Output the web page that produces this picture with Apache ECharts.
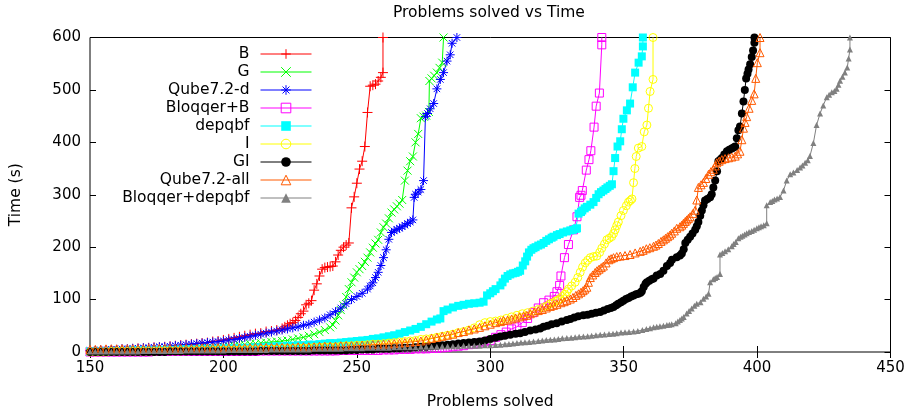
<!DOCTYPE html>
<html><head><meta charset="utf-8">
<script src="https://cdn.jsdelivr.net/npm/echarts@6/dist/echarts.min.js"></script>
<style>html,body{margin:0;padding:0;background:#fff}#c{width:915px;height:415px}</style>
</head><body><div id="c"></div>
<script>
const seriesNames = ['B','G','Qube7.2-d','Bloqqer+B','depqbf','I','GI','Qube7.2-all','Bloqqer+depqbf'];
const xRange = [150, 450, 50];
const yRange = [0, 600, 100];

const dataB = [[150,2],[152,2],[154,3],[156,3],[158,4],[160,4],[162,5],[164,5],[166,6],[168,7],[170,7],[172,8],[174,9],[176,9],[178,10],[180,11],[182,12],[184,13],[186,14],[188,15],[190,16],[192,17],[194,18],[196,20],[198,21],[200,23],[202,25],[204,27],[206,29],[208,31],[210,33],[212,35],[214,36],[216,39],[218,40],[220,42],[222,45],[223,48],[224,51],[225,54],[226,56],[227,60],[228,66],[229,73],[230,78],[231,90],[232,93],[233,98],[234,118],[235,130],[236,145],[237,158],[238,161],[239,162],[240,163],[241,164],[242,172],[243,185],[244,194],[245,200],[246,204],[247,208],[248,275],[249,296],[250,322],[251,349],[252,364],[253,392],[254,457],[255,507],[256,509],[257,511],[258,517],[259,524],[259.8,533],[259.8,600]];
const dataG = [[150,1],[152,1],[154,1],[156,1],[158,2],[160,2],[162,2],[164,2],[166,3],[168,3],[170,3],[172,3],[174,4],[176,4],[178,4],[180,5],[182,5],[184,6],[186,6],[188,6],[190,7],[192,7],[194,8],[196,8],[198,9],[200,10],[202,11],[204,12],[206,13],[208,14],[210,15],[212,16],[214,17],[216,18],[218,19],[220,20],[222,21],[224,22],[226,24],[228,26],[230,28],[232,31],[234,34],[236,38],[238,42],[240,47],[241,52],[242,60],[243,70],[244,80],[245,89],[246,105],[247,120],[248,133],[249,142],[250,152],[251,158],[252,164],[253,172],[254,180],[255,190],[256,199],[257,207],[258,214],[259,228],[260,238],[261,245],[262,255],[263,266],[264,272],[265,278],[266,283],[267,290],[268,327],[269,346],[270,364],[271,373],[272,400],[273,416],[274,446],[275,449],[276,451],[277,458],[277.2,517],[278,522],[279,527],[280,533],[281,542],[282,552],[282.5,600]];
const dataQubeD = [[150,3],[152,3],[154,4],[156,4],[158,5],[160,5],[162,6],[164,6],[166,7],[168,7],[170,8],[172,8],[174,9],[176,10],[178,10],[180,11],[182,12],[184,13],[186,14],[188,15],[190,16],[192,17],[194,18],[196,19],[198,20],[200,21],[202,23],[204,24],[206,26],[208,28],[210,30],[212,32],[214,34],[216,36],[218,38],[220,40],[222,42],[224,44],[226,46],[228,48],[230,51],[232,53],[234,57],[236,61],[238,65],[240,71],[242,77],[244,84],[246,92],[248,100],[250,106],[252,112],[254,120],[255,126],[256,132],[257,142],[258,152],[259,165],[260,180],[261,195],[262,215],[263,228],[264,231],[265,234],[266,236],[267,239],[268,242],[269,245],[270,248],[271,252],[271.5,295],[272,301],[273,305],[274,310],[275,327],[275.7,449],[276.5,455],[277.5,464],[278.8,474],[280,502],[281.3,520],[282.5,533],[283.8,555],[285,567],[285.7,589],[287.5,600]];
const dataBloqqerB = [[150,0],[152,0],[154,0],[156,0],[158,0],[160,0],[162,0],[164,0],[166,0],[168,0],[170,0],[172,0],[174,1],[176,1],[178,1],[180,1],[182,1],[184,1],[186,1],[188,1],[190,1],[192,1],[194,1],[196,1],[198,1],[200,1],[202,1],[204,1],[206,1],[208,1],[210,1],[212,1],[214,2],[216,2],[218,2],[220,2],[222,2],[224,2],[226,2],[228,2],[230,2],[232,2],[234,2],[236,2],[238,2],[240,2],[242,2],[244,3],[246,3],[248,3],[250,3],[252,3],[254,3],[256,3],[258,3],[260,4],[262,4],[264,4],[266,5],[268,5],[270,5],[272,6],[274,6],[276,6],[278,7],[280,7],[282,8],[284,9],[286,10],[288,11],[290,12],[292,14],[294,15],[296,17],[298,19],[300,22],[302,28],[304,33],[306,38],[308,44],[310,48],[312,56],[314,64],[316,75],[318,84],[320,94],[322,99],[324,106],[325,115],[326,127],[326.5,145],[327.8,180],[329.3,205],[331.2,233],[332.5,258],[333.5,295],[334,299],[334.5,308],[336,347],[337,367],[337.7,384],[338.9,429],[339.7,469],[340.9,494],[341.8,586],[341.8,600]];
const dataDepqbf = [[150,1],[152,1],[154,1],[156,1],[158,2],[160,2],[162,2],[164,2],[166,3],[168,3],[170,3],[172,3],[174,3],[176,4],[178,4],[180,4],[182,4],[184,5],[186,5],[188,5],[190,5],[192,6],[194,6],[196,6],[198,6],[200,7],[202,7],[204,7],[206,7],[208,8],[210,8],[212,9],[214,9],[216,10],[218,10],[220,11],[222,11],[224,12],[226,12],[228,13],[230,13],[232,14],[234,14],[236,15],[238,16],[240,17],[242,17],[244,18],[246,19],[248,20],[250,21],[252,22],[254,23],[256,25],[258,26],[260,28],[262,30],[264,32],[266,35],[268,38],[270,41],[272,44],[274,48],[276,53],[278,58],[280,62],[281.3,64],[282.5,78],[284,81],[286,85],[288,88],[290,90],[292,92],[294,93],[296,94],[297.5,96],[298.8,108],[300,112],[301,116],[302,120],[303.8,127],[304.6,133],[305.5,140],[306.5,145],[307.5,148],[308.5,150],[309.5,151],[310.4,153],[311.2,155],[312.2,165],[313.1,173],[313.8,182],[314.5,190],[315.4,195],[316.2,198],[317,200],[318,203],[319,205],[320,208],[321,212],[322,215],[323,218],[323.7,220],[325,223],[326,225],[327.3,228],[328.7,230],[330,232],[331,233],[332,235],[332.5,236],[333.1,264],[334,267],[334.5,270],[335.4,274],[336.2,277],[337.5,281],[338.7,286],[339.7,294],[340.6,301],[341.5,305],[342.4,308],[343.2,311],[343.9,314],[344.8,317],[345.6,320],[346.2,345],[346.8,370],[347.7,392],[348.7,402],[349.3,425],[349.9,445],[351.2,461],[352.4,474],[353.4,505],[354.3,533],[355.6,552],[356.8,564],[357.2,583],[357.2,600]];
const dataI = [[150,0],[152,0],[154,0],[156,0],[158,1],[160,1],[162,1],[164,1],[166,1],[168,1],[170,1],[172,1],[174,1],[176,2],[178,2],[180,2],[182,2],[184,2],[186,2],[188,3],[190,3],[192,3],[194,3],[196,3],[198,4],[200,4],[202,4],[204,4],[206,4],[208,5],[210,5],[212,5],[214,5],[216,6],[218,6],[220,6],[222,7],[224,7],[226,7],[228,8],[230,8],[232,8],[234,9],[236,9],[238,10],[240,10],[242,10],[244,11],[246,12],[248,12],[250,13],[252,13],[254,14],[256,15],[258,15],[260,16],[262,17],[264,18],[266,19],[268,20],[270,21],[272,22],[274,24],[276,25],[278,26],[280,28],[282,30],[284,32],[286,34],[288,37],[290,39],[292,42],[294,46],[296,52],[298,56],[300,58],[302,59],[304,61],[306,64],[308,67],[310,70],[312,73],[314,75],[316,78],[318,81],[320,85],[321.3,88],[322.5,92],[323.5,94],[324.5,97],[325.4,99],[326.2,102],[327.1,106],[328,110],[328.7,115],[329.3,120],[330.5,126],[331.8,133],[332.8,142],[333.7,152],[334.6,162],[335.6,170],[336.5,175],[337.5,180],[338.7,182],[339.9,183],[341,190],[341.8,198],[342.8,206],[343.7,214],[344.6,217],[345.5,220],[346.2,226],[346.8,233],[347.4,241],[348,248],[349,260],[349.9,270],[351,279],[351.8,286],[352.5,289],[353.1,292],[353.7,323],[354.2,350],[354.7,373],[355.5,389],[356.8,392],[357.7,420],[358.7,433],[359.3,465],[359.9,497],[361,520],[361,600]];
const dataGI = [[150,0],[152,0],[154,0],[156,0],[158,0],[160,0],[162,0],[164,0],[166,0],[168,0],[170,0],[172,0],[174,0],[176,0],[178,0],[180,1],[182,1],[184,1],[186,1],[188,1],[190,1],[192,1],[194,1],[196,1],[198,1],[200,1],[202,1],[204,1],[206,1],[208,1],[210,1],[212,1],[214,2],[216,2],[218,2],[220,2],[222,2],[224,2],[226,2],[228,2],[230,2],[232,2],[234,3],[236,3],[238,3],[240,3],[242,3],[244,3],[246,3],[248,4],[250,4],[252,5],[254,5],[256,5],[258,6],[260,6],[262,6],[264,7],[266,7],[268,8],[270,8],[272,9],[274,10],[276,10],[278,11],[280,12],[282,13],[284,14],[286,15],[288,16],[290,17],[292,18],[294,19],[296,20],[298,22],[300,25],[302,27],[303.8,29.6],[305.5,31],[307.5,33],[309.5,35],[311.2,36],[313,38],[315,41],[317,43],[318.7,45],[320,48],[321.5,50],[323,53],[324.9,55],[326.8,58],[328.7,61],[330,63],[331.5,66],[333,68],[334.9,70],[336.5,71],[338,73],[339.6,75],[341.2,76.5],[342.6,79],[344,82],[345.2,84],[346.2,86],[347.2,89],[348,92],[349,95],[349.9,98],[350.9,101],[351.8,103],[352.8,106],[353.7,108],[354.7,110],[355.5,111],[356.3,113],[356.8,116],[357.5,124],[358.2,130],[358.7,133],[359.6,136],[360.5,139],[361.2,140],[362.4,146],[363.7,149],[364.9,155],[366.2,164],[367.4,170],[368.1,176],[369.9,181],[371.1,184],[371.8,188],[372.5,196],[373.1,208],[374,214],[374.9,220],[375.8,226],[376.8,233],[377.4,240],[378,248],[378.7,260],[379.3,270],[379.9,280],[380.5,289],[381.4,292],[382.4,295],[383,301],[383.6,314],[384.3,327],[385,345],[385.5,364],[386.2,367],[386.8,370],[387.7,377],[388.7,383],[389.6,386],[390.5,388],[391.2,390],[391.8,392],[392.4,408],[393,423],[393.6,430],[394.3,455],[394.9,478],[395.4,500],[395.9,522],[396.4,531],[396.8,539],[397.4,549],[398,563],[398.5,575],[399,590],[399,600]];
const dataQubeAll = [[150,5],[152,5],[154,5],[156,6],[158,6],[160,6],[162,6],[164,6],[166,6],[168,6],[170,6],[172,7],[174,7],[176,7],[178,7],[180,7],[182,7],[184,7],[186,7],[188,7],[190,7],[192,8],[194,8],[196,8],[198,8],[200,8],[202,8],[204,8],[206,8],[208,8],[210,8],[212,9],[214,9],[216,9],[218,9],[220,9],[222,9],[224,9],[226,9],[228,10],[230,10],[232,10],[234,10],[236,11],[238,11],[240,11],[242,11],[244,12],[246,12],[248,12],[250,12],[252,13],[254,13],[256,14],[258,14],[260,15],[262,15],[264,16],[266,17],[268,18],[270,19],[272,20],[274,21],[276,23],[278,26],[280,28],[282,30],[284,32],[286,34],[288,37],[290,39],[292,42],[294,44],[296,47],[298,50],[300,53],[302,56],[303.8,58],[305,60],[306.5,61],[308,63],[309.5,65],[311,67],[312.5,69],[313.7,70],[315,73],[316.5,76],[318,79],[319.5,81],[321,84],[322.5,87],[323.7,89],[325,91],[326.5,94],[327.7,96],[328.7,98.5],[330,101],[331,104],[332.1,108],[333.1,111],[334,114],[334.8,117],[335.5,120],[336.2,123.5],[336.8,133],[337.5,142],[338.4,147],[339.3,151.6],[340,155],[340.8,158],[341.6,161],[342.4,164],[343.4,170],[344.5,176],[345.3,178],[346.2,180],[347.4,182],[348.7,183],[350.5,184],[352.4,186],[354.3,189],[356.2,192],[357.3,194],[358.5,197],[359.8,199],[361.2,201.7],[362.1,204],[363,207],[364,211],[364.9,214],[365.7,217],[366.5,220],[367.3,223],[368,226.6],[369,231],[369.9,236],[371.1,239],[371.8,242],[372.4,245.4],[373.1,249],[373.7,252],[374.3,255],[374.9,258],[375.9,264],[376.8,270.5],[377.4,290],[378,314],[379,319],[379.9,323.6],[380.8,331],[381.8,339],[382.7,344],[383.6,348.6],[384.3,355],[384.9,361],[385.8,364],[386.8,367],[388,369],[389.3,370.5],[390.5,372],[391.8,373.7],[392.7,378],[393.6,383],[394.3,405],[394.9,427],[395.5,438],[396.1,449],[397,465],[398,480],[398.9,492.5],[399.5,522],[400.1,552],[401.1,571],[401.1,600]];
const dataBloqqerDepqbf = [[150,1],[152,1],[154,1],[156,1],[158,1],[160,1],[162,1],[164,1],[166,1],[168,1],[170,2],[172,2],[174,2],[176,2],[178,2],[180,2],[182,2],[184,2],[186,3],[188,3],[190,3],[192,3],[194,3],[196,3],[198,3],[200,3],[202,4],[204,4],[206,4],[208,4],[210,4],[212,4],[214,4],[216,4],[218,5],[220,5],[222,5],[224,5],[226,5],[228,5],[230,5],[232,5],[234,6],[236,6],[238,6],[240,6],[242,6],[244,6],[246,7],[248,7],[250,7],[252,7],[254,8],[256,8],[258,8],[260,8],[262,8],[264,9],[266,9],[268,9],[270,9],[272,9],[274,10],[276,10],[278,10],[280,10],[282,11],[284,11],[286,11],[288,11],[290,12],[292,12],[294,12],[296,12],[298,13],[300,13],[302,13.5],[303.8,14],[305.5,15],[307,15.5],[308.5,16],[310,17],[311.5,18],[313,18.5],[314.6,19],[316.2,20],[318,21],[319.5,22],[321,23],[322.5,23.5],[324,24],[325.5,25],[327,26],[328.7,26.6],[330.3,27],[331.8,28],[333.3,29],[334.9,29.6],[336.5,30],[338,31],[339.6,32],[341.2,32.8],[342.8,33.5],[344.5,34.5],[346,35],[347.4,36],[349,37],[350.5,37.5],[352,38],[353.7,39],[355.3,40],[357,42],[358.5,44],[359.9,45.4],[361.2,47],[362.4,48.4],[363.6,49],[364.9,50],[366.2,51.6],[367.1,52],[368,53],[369.5,55],[370.3,58],[371.1,61],[371.8,64],[372.5,67],[373.6,73.5],[374.5,78],[375.5,83],[376.5,88],[377.4,92],[378.8,95],[379.9,101.7],[380.9,106],[381.8,111],[382.4,133],[383.6,139],[384.3,141],[385,143],[386.1,148.6],[386.1,186],[387,189],[388,192],[389.2,196],[390.5,201.7],[391.2,206],[392,210],[393,217],[393.8,220],[394.5,222],[395.3,224],[396.1,226.6],[397,229],[398,231],[398.9,233],[399.9,236],[400.7,238],[401.5,240],[402.5,242],[403.6,245.4],[403.6,280],[404.9,286],[405.7,288],[406.5,291],[407.5,293],[408.6,295.5],[409.9,308],[411.1,327],[412.4,339],[413.6,342.4],[415,347],[416.1,351.8],[417,356],[418,361],[419,366],[419.8,373.7],[421.1,398.7],[422.3,433],[423.6,455],[424.8,470.5],[426.1,486],[427,491],[428,495.6],[429,498],[429.8,502],[430.5,510],[431.1,517.5],[432,525],[432.9,533],[433.8,542.6],[434.3,560],[434.8,577],[434.8,600]];

const allData = [dataB, dataG, dataQubeD, dataBloqqerB, dataDepqbf, dataI, dataGI, dataQubeAll, dataBloqqerDepqbf];
const colors = ['#ff0000','#00ff00','#0000ff','#ff00ff','#00ffff','#ffff00','#000000','#ff5a00','#808080'];
const PLUS = 'path://M5,0L5,10M0,5L10,5';
const CROSS = 'path://M0,0L10,10M10,0L0,10';
const STAR = 'path://M5,0L5,10M0,5L10,5M1.4,1.4L8.6,8.6M8.6,1.4L1.4,8.6';
// [symbol, size, filled]
const marks = [[PLUS,10,false],[CROSS,8,false],[STAR,9,false],['rect',8,false],['rect',8,true],['circle',8,false],['circle',8,true],['triangle',8,false],['triangle',6,true]];

const FONT = 'DejaVu Sans';
const chart = echarts.init(document.getElementById('c'), null, {renderer:'canvas'});

function itemStyleFor(i){
  const c = colors[i], m = marks[i];
  return m[2] ? {color:c, borderWidth:0} : {color:'rgba(0,0,0,0)', borderColor:c, borderWidth:1};
}

const series = seriesNames.map((n,i)=>({
  name:n, type:'line', data: allData[i], xAxisIndex:0, yAxisIndex:0,
  symbol: marks[i][0], symbolSize: marks[i][1], showSymbol:true, showAllSymbol:true,
  lineStyle:{color:colors[i], width:1}, itemStyle:itemStyleFor(i),
  clip:false, silent:true, animation:false, emphasis:{disabled:true}
}));

const axisCommonX = {type:'value', min:xRange[0], max:xRange[1], interval:xRange[2], splitLine:{show:false}, axisLine:{show:false}};
const axisCommonY = {type:'value', min:yRange[0], max:yRange[1], interval:yRange[2], splitLine:{show:false}, axisLine:{show:false}};

chart.setOption({
  animation:false,
  backgroundColor:'#fff',
  textStyle:{fontFamily:FONT},
  title:{text:'Problems solved vs Time', left:388, top:0, textStyle:{fontFamily:FONT, fontSize:15.5, fontWeight:'normal', color:'#000'}},
  grid:{left:89.5, right:24.5, top:37.5, bottom:57.5, show:true, borderColor:'#000', borderWidth:1, backgroundColor:'transparent'},
  legend:{
    orient:'vertical', align:'right', right:603, top:45, padding:0,
    itemWidth:51, itemHeight:12, itemGap:0, selectedMode:false,
    textStyle:{fontFamily:FONT, fontSize:15.5, color:'#000', lineHeight:18, padding:[0,6,0,0]},
    data: seriesNames.map((n,i)=>({name:n, itemStyle:Object.assign({}, itemStyleFor(i)), lineStyle:{color:colors[i], width:1}}))
  },
  xAxis:[
    Object.assign({}, axisCommonX, {position:'bottom', name:'Problems solved', nameLocation:'middle', nameGap:42,
      nameTextStyle:{fontFamily:FONT, fontSize:15.5, color:'#000'},
      axisTick:{inside:true, length:6, lineStyle:{color:'#000'}},
      axisLabel:{margin:9, fontFamily:FONT, fontSize:15, color:'#000'}}),
    Object.assign({}, axisCommonX, {position:'top', axisTick:{inside:true, length:6, lineStyle:{color:'#000'}}, axisLabel:{show:false}})
  ],
  yAxis:[
    Object.assign({}, axisCommonY, {position:'left', name:'Time (s)', nameLocation:'middle', nameGap:66, nameRotate:90,
      nameTextStyle:{fontFamily:FONT, fontSize:15.5, color:'#000'},
      axisTick:{inside:true, length:6, lineStyle:{color:'#000'}},
      axisLabel:{margin:9, fontFamily:FONT, fontSize:15, color:'#000'}}),
    Object.assign({}, axisCommonY, {position:'right', axisTick:{inside:true, length:6, lineStyle:{color:'#000'}}, axisLabel:{show:false}})
  ],
  series: series
});
</script></body></html>
